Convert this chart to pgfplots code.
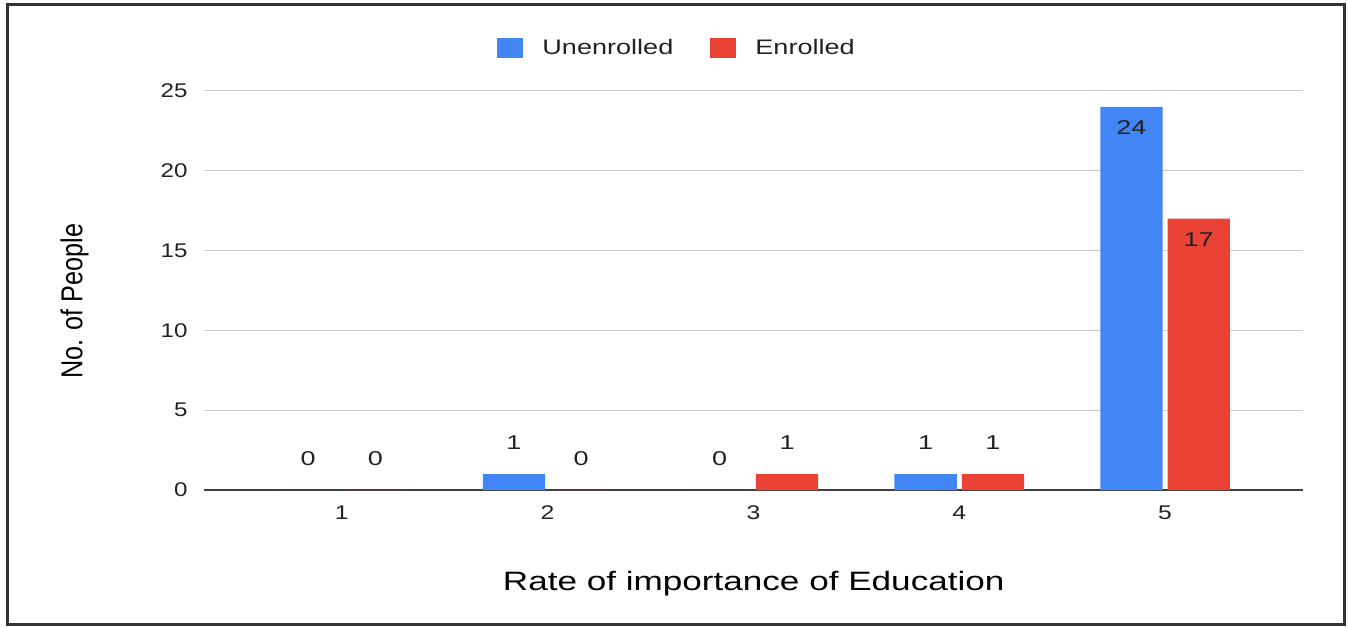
\documentclass[border=0pt]{standalone}
\usepackage{fontspec}
\setmainfont{Liberation Sans}
\usepackage{pgfplots}
\pgfplotsset{compat=1.18}
\definecolor{gblue}{HTML}{4285F4}
\definecolor{gred}{HTML}{EA4335}
\definecolor{txt}{HTML}{222222}
\begin{document}
\begin{tikzpicture}
\useasboundingbox (-102pt,-68.5pt) rectangle (572pt,245pt);
\begin{axis}[
  at={(0pt,0pt)}, anchor=south west,
  scale only axis, width=549.7pt, height=199.6pt,
  ybar=2.5pt, bar width=31.15pt,
  xmin=0.331, xmax=5.672, ymin=0, ymax=25,
  enlargelimits=false,
  xtick={1,2,3,4,5}, ytick={0,5,10,15,20,25},
  axis lines*=left,
  y axis line style={draw=none},
  x axis line style={draw=black!75, line width=0.9pt},
  major tick length=0pt,
  ymajorgrids, grid style={draw=black!20, line width=0.5pt},
  /pgf/number format/assume math mode=true,
  tick label style={font=\fontsize{9.9}{12}\selectfont, text=txt},
  xticklabel={\scalebox{1.25}[1]{\pgfmathprintnumber{\tick}}},
  yticklabel={\scalebox{1.22}[1]{\pgfmathprintnumber{\tick}}},
  yticklabel style={anchor=east, inner sep=0pt, xshift=-8pt},
  xticklabel style={anchor=base, inner sep=0pt, yshift=-14.65pt},
  xlabel={\scalebox{1.32}[1]{Rate of importance of Education}},
  xlabel style={at={(axis description cs:0.5,-0.2522)}, anchor=base, font=\fontsize{13.3}{16}\selectfont, text=black},
  ylabel={\scalebox{1}[1.2]{No. of People}},
  ylabel style={at={(axis description cs:-0.1107,0.473)}, anchor=base, font=\fontsize{12.6}{15}\selectfont, text=black},
  legend columns=2,
  legend style={at={(axis description cs:0.4294,1.107)}, anchor=center, draw=none, fill=none,
    font=\fontsize{10.5}{12}\selectfont, text=txt,
    nodes={inner sep=0pt}, cells={anchor=west},
    /tikz/every even column/.append style={column sep=18.5pt}},
  nodes near coords={\scalebox{1.35}[1]{\pgfmathprintnumber{\pgfplotspointmeta}}},
  nodes near coords style={font=\fontsize{10}{12}\selectfont, text=txt, inner sep=0pt},
  visualization depends on={y \as \myy},
]
\addplot[fill=gblue, draw=none,
  legend image code/.code={\fill[gblue] (0pt,-4.85pt) rectangle (13pt,4.85pt); \path (22.5pt,0pt);},
  every node near coord/.append style={anchor=center, yshift={ifthenelse(\myy>5,-10.6,15.7)*1pt}}]
  coordinates {(1,0) (2,1) (3,0) (4,1) (5,24)};
\addlegendentry{\scalebox{1.29}[1]{Unenrolled}}
\addplot[fill=gred, draw=none,
  legend image code/.code={\fill[gred] (0pt,-4.85pt) rectangle (13pt,4.85pt); \path (22.5pt,0pt);},
  every node near coord/.append style={anchor=center, yshift={ifthenelse(\myy>5,-10.6,15.7)*1pt}}]
  coordinates {(1,0) (2,0) (3,1) (4,1) (5,17)};
\addlegendentry{\scalebox{1.29}[1]{Enrolled}}
\end{axis}
\draw[line width=1.5pt, draw=black!80] (-98.25pt,-67.35pt) rectangle (570.35pt,242.65pt);
\end{tikzpicture}
\end{document}
